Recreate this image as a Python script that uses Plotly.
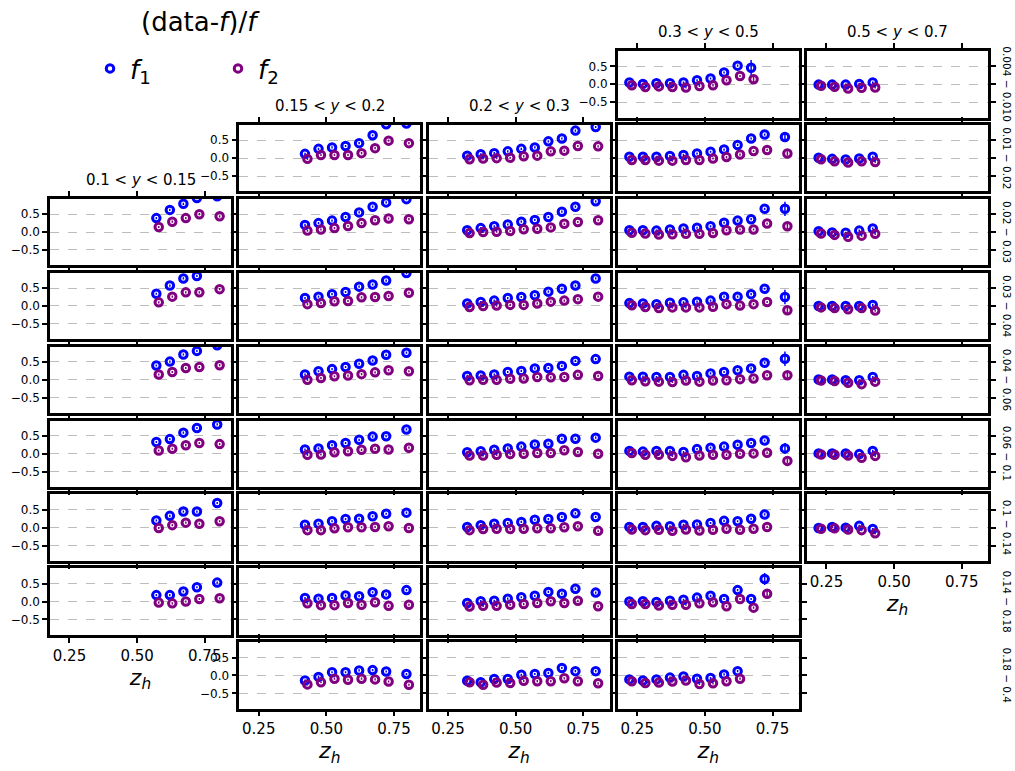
import plotly.graph_objects as go

# ---- bins -------------------------------------------------------------
Y_BIN_LABELS = ["0.1 &lt; <i>y</i> &lt; 0.15", "0.15 &lt; <i>y</i> &lt; 0.2",
                "0.2 &lt; <i>y</i> &lt; 0.3", "0.3 &lt; <i>y</i> &lt; 0.5",
                "0.5 &lt; <i>y</i> &lt; 0.7"]
X_BIN_LABELS = ["0.004 − 0.010", "0.01 − 0.02", "0.02 − 0.03", "0.03 − 0.04",
                "0.04 − 0.06", "0.06 − 0.1", "0.1 − 0.14", "0.14 − 0.18",
                "0.18 − 0.4"]

# z_h bin centres available in each y column
Z_COL1 = [0.575, 0.625, 0.675, 0.725, 0.8]
Z_COL2 = [0.425, 0.475, 0.525, 0.575, 0.625, 0.675, 0.725, 0.8]
Z_COL3 = [0.325, 0.375, 0.425, 0.475, 0.525, 0.575, 0.625, 0.675, 0.725, 0.8]
Z_COL4 = [0.225, 0.275, 0.325, 0.375, 0.425, 0.475, 0.525, 0.575, 0.625,
          0.675, 0.725, 0.8]
Z_COL5 = [0.225, 0.275, 0.325, 0.375, 0.425]

# x-bin rows filled in each y column (0 = first x bin)
ROWS_COL1 = [2, 3, 4, 5, 6, 7]
ROWS_COL2 = [1, 2, 3, 4, 5, 6, 7, 8]
ROWS_COL3 = [1, 2, 3, 4, 5, 6, 7, 8]
ROWS_COL4 = [0, 1, 2, 3, 4, 5, 6, 7, 8]
ROWS_COL5 = [0, 1, 2, 3, 4, 5, 6]

# ---- (data - f)/f for f1 and f2, one list per filled x bin -------------
F1_COL1 = [
    [0.39, 0.62, 0.79, 0.95, 1.00],
    [0.34, 0.57, 0.77, 0.84, 1.10],
    [0.40, 0.51, 0.71, 0.81, 0.97],
    [0.33, 0.41, 0.59, 0.72, 0.82],
    [0.20, 0.33, 0.45, 0.45, 0.69],
    [0.18, 0.18, 0.28, 0.40, 0.53],
]
F2_COL1 = [
    [0.14, 0.29, 0.39, 0.50, 0.44],
    [0.10, 0.26, 0.38, 0.38, 0.47],
    [0.15, 0.22, 0.33, 0.36, 0.41],
    [0.09, 0.14, 0.24, 0.30, 0.27],
    [-0.01, 0.07, 0.14, 0.11, 0.18],
    [-0.03, -0.05, 0.00, 0.07, 0.09],
]

F1_COL2 = [
    [0.12, 0.26, 0.30, 0.34, 0.42, 0.64, 0.95, 0.97],
    [0.20, 0.25, 0.32, 0.42, 0.55, 0.71, 0.83, 0.92],
    [0.22, 0.26, 0.33, 0.39, 0.54, 0.60, 0.71, 0.92],
    [0.15, 0.24, 0.30, 0.36, 0.45, 0.54, 0.70, 0.76],
    [0.12, 0.15, 0.24, 0.30, 0.39, 0.48, 0.49, 0.68],
    [0.08, 0.11, 0.18, 0.24, 0.25, 0.32, 0.39, 0.42],
    [0.10, 0.08, 0.10, 0.17, 0.15, 0.26, 0.20, 0.32],
    [-0.14, -0.04, 0.09, 0.09, 0.14, 0.15, 0.11, 0.04],
]
F2_COL2 = [
    [-0.02, 0.09, 0.09, 0.09, 0.14, 0.28, 0.49, 0.42],
    [0.04, 0.07, 0.11, 0.17, 0.25, 0.33, 0.38, 0.36],
    [0.05, 0.08, 0.13, 0.14, 0.24, 0.25, 0.28, 0.37],
    [0.00, 0.05, 0.10, 0.12, 0.16, 0.21, 0.27, 0.24],
    [-0.03, -0.02, 0.04, 0.07, 0.11, 0.14, 0.12, 0.17],
    [-0.07, -0.07, -0.02, 0.01, 0.01, 0.02, 0.04, -0.01],
    [-0.05, -0.10, -0.10, -0.04, -0.09, -0.02, -0.12, -0.09],
    [-0.25, -0.19, -0.09, -0.12, -0.09, -0.11, -0.17, -0.26],
]

F1_COL3 = [
    [0.07, 0.11, 0.14, 0.19, 0.26, 0.30, 0.47, 0.55, 0.77, 0.87],
    [0.05, 0.11, 0.16, 0.21, 0.29, 0.34, 0.42, 0.57, 0.71, 0.86],
    [0.07, 0.11, 0.15, 0.22, 0.25, 0.30, 0.40, 0.48, 0.57, 0.77],
    [0.11, 0.12, 0.15, 0.22, 0.25, 0.32, 0.33, 0.39, 0.53, 0.58],
    [0.04, 0.07, 0.11, 0.15, 0.20, 0.26, 0.28, 0.42, 0.42, 0.45],
    [0.02, 0.07, 0.11, 0.13, 0.16, 0.22, 0.24, 0.30, 0.40, 0.30],
    [-0.04, 0.01, 0.02, 0.08, 0.12, 0.16, 0.27, 0.22, 0.36, 0.25],
    [-0.15, -0.19, -0.10, -0.10, 0.02, 0.04, 0.07, 0.21, 0.12, 0.12],
]
F2_COL3 = [
    [-0.03, -0.01, 0.00, 0.01, 0.05, 0.07, 0.19, 0.21, 0.34, 0.33],
    [-0.03, 0.00, 0.01, 0.03, 0.08, 0.09, 0.13, 0.23, 0.28, 0.33],
    [-0.03, 0.00, 0.01, 0.03, 0.03, 0.07, 0.12, 0.15, 0.19, 0.26],
    [-0.01, 0.00, 0.00, 0.03, 0.04, 0.08, 0.07, 0.08, 0.14, 0.11],
    [-0.05, -0.05, -0.03, -0.01, 0.00, 0.02, 0.02, 0.10, 0.05, 0.00],
    [-0.07, -0.04, -0.03, -0.04, -0.03, -0.02, -0.02, 0.01, 0.04, -0.09],
    [-0.14, -0.12, -0.12, -0.09, -0.07, -0.04, 0.01, -0.04, 0.02, -0.13],
    [-0.19, -0.26, -0.20, -0.21, -0.15, -0.16, -0.16, -0.08, -0.16, -0.22],
]

F1_COL4 = [
    [0.05, 0.01, 0.03, 0.03, 0.05, 0.11, 0.16, 0.33, 0.52, 0.46],
    [0.04, 0.04, 0.04, 0.06, 0.09, 0.13, 0.18, 0.24, 0.37, 0.55, 0.66, 0.59],
    [0.05, 0.05, 0.04, 0.07, 0.10, 0.12, 0.16, 0.26, 0.32, 0.36, 0.65, 0.65],
    [0.08, 0.07, 0.05, 0.09, 0.10, 0.12, 0.15, 0.26, 0.26, 0.33, 0.48, 0.25],
    [0.09, 0.09, 0.08, 0.08, 0.14, 0.11, 0.18, 0.22, 0.27, 0.32, 0.48, 0.59],
    [0.08, 0.06, 0.08, 0.08, 0.05, 0.13, 0.17, 0.20, 0.25, 0.30, 0.37, 0.15],
    [0.02, 0.02, 0.05, 0.04, 0.08, 0.09, 0.13, 0.19, 0.18, 0.25, 0.37],
    [0.00, 0.01, -0.01, 0.02, 0.05, 0.11, 0.16, 0.07, 0.32, 0.07, 0.63],
    [-0.11, -0.14, -0.11, -0.06, -0.03, -0.09, -0.07, 0.03, 0.12],
]
F2_COL4 = [
    [-0.03, -0.08, -0.06, -0.08, -0.09, -0.05, -0.03, 0.11, 0.23, 0.14],
    [-0.05, -0.05, -0.07, -0.07, -0.05, -0.05, -0.01, 0.03, 0.10, 0.20, 0.23, 0.13],
    [-0.02, -0.04, -0.07, -0.06, -0.05, -0.05, -0.03, 0.05, 0.07, 0.07, 0.24, 0.16],
    [0.02, -0.03, -0.06, -0.04, -0.04, -0.04, -0.02, 0.05, 0.01, 0.05, 0.11, -0.12],
    [-0.01, -0.04, -0.05, -0.06, -0.02, -0.05, -0.02, -0.01, 0.02, 0.04, 0.13, 0.13],
    [0.02, -0.03, -0.03, -0.06, -0.10, -0.05, -0.03, -0.03, 0.00, 0.01, 0.03, -0.20],
    [-0.05, -0.07, -0.06, -0.09, -0.05, -0.08, -0.06, -0.03, -0.06, -0.03, 0.02],
    [-0.07, -0.07, -0.11, -0.09, -0.09, -0.05, -0.02, -0.13, 0.07, -0.17, 0.22],
    [-0.16, -0.21, -0.20, -0.17, -0.14, -0.24, -0.22, -0.16, -0.09],
]

F1_COL5 = [
    [-0.01, -0.01, -0.01, 0.01, 0.05],
    [0.01, -0.02, -0.04, -0.01, 0.04],
    [0.02, -0.01, -0.02, 0.04, 0.10],
    [0.00, 0.00, 0.00, 0.00, 0.03],
    [0.01, 0.01, -0.01, -0.01, 0.08],
    [0.01, 0.01, 0.01, -0.01, 0.08],
    [-0.01, 0.02, 0.00, 0.05, -0.04],
]
F2_COL5 = [
    [-0.04, -0.07, -0.12, -0.10, -0.09],
    [-0.03, -0.09, -0.12, -0.09, -0.11],
    [-0.04, -0.08, -0.13, -0.10, -0.05],
    [-0.04, -0.06, -0.09, -0.06, -0.13],
    [-0.02, -0.03, -0.08, -0.12, -0.05],
    [-0.02, -0.03, -0.05, -0.11, -0.06],
    [-0.03, -0.02, -0.05, -0.07, -0.16],
]

# statistical uncertainty: small everywhere except a few sparse high-z bins
ERR_BASE = 0.03
# (column, x-bin row, z index) -> (err f1, err f2)
ERR_LARGE = {
    (4, 0, 9): (0.22, 0.13),
    (4, 1, 11): (0.13, 0.06),
    (4, 2, 11): (0.20, 0.10),
    (4, 3, 11): (0.20, 0.08),
    (4, 4, 11): (0.20, 0.10),
    (4, 5, 11): (0.15, 0.06),
    (4, 7, 10): (0.17, 0.10),
}

COLUMNS = [
    (Z_COL1, ROWS_COL1, F1_COL1, F2_COL1),
    (Z_COL2, ROWS_COL2, F1_COL2, F2_COL2),
    (Z_COL3, ROWS_COL3, F1_COL3, F2_COL3),
    (Z_COL4, ROWS_COL4, F1_COL4, F2_COL4),
    (Z_COL5, ROWS_COL5, F1_COL5, F2_COL5),
]

# ---- layout geometry (pixels) -----------------------------------------
W, H = 1015, 771
COL_LEFT0, COL_PITCH, COL_W = 50.0, 189.25, 181.0
ROW_TOP0, ROW_PITCH, ROW_H = 51.0, 73.9, 66.5
X_RANGE = [0.178, 0.847]
Y_RANGE = [-0.93, 0.93]
DZ1, DZ2 = -0.004, 0.005
C1, C2 = "#0000ff", "#800080"
FONT = "DejaVu Sans"

fig = go.Figure()
layout = {}
annotations = []
n = 0
legend_done = False

for ci, (zs, rows, f1s, f2s) in enumerate(COLUMNS):
    left = COL_LEFT0 + ci * COL_PITCH
    xdom = [left / W, (left + COL_W) / W]
    for k, (r, v1, v2) in enumerate(zip(rows, f1s, f2s)):
        n += 1
        top = ROW_TOP0 + r * ROW_PITCH
        ydom = [1 - (top + ROW_H) / H, 1 - top / H]
        is_left = all(
            r not in COLUMNS[cj][1] for cj in range(ci)
        )
        is_bottom = (k == len(rows) - 1)
        xa = "xaxis" if n == 1 else f"xaxis{n}"
        ya = "yaxis" if n == 1 else f"yaxis{n}"
        xr = "x" if n == 1 else f"x{n}"
        yr = "y" if n == 1 else f"y{n}"
        layout[xa] = dict(
            domain=xdom, anchor=yr, range=X_RANGE,
            tickvals=[0.25, 0.5, 0.75], ticktext=["0.25", "0.50", "0.75"],
            showticklabels=is_bottom, ticks="outside", ticklen=5,
            tickwidth=1.8, tickcolor="black", mirror="ticks",
            showline=True, linewidth=2.5, linecolor="black",
            showgrid=False, zeroline=False,
            tickfont=dict(size=15, color="black", family=FONT),
            title=dict(text="<i>z</i><sub><i>h</i></sub>" if is_bottom else "",
                       font=dict(size=22, color="black", family=FONT),
                       standoff=6),
        )
        layout[ya] = dict(
            domain=ydom, anchor=xr, range=Y_RANGE,
            tickvals=[-0.5, 0.0, 0.5], ticktext=["−0.5", "0.0", "0.5"],
            showticklabels=is_left, ticks="outside", ticklen=5,
            tickwidth=1.8, tickcolor="black", mirror="ticks",
            showline=True, linewidth=2.5, linecolor="black",
            showgrid=True, gridcolor="#bdbdbd", griddash="dash",
            gridwidth=0.7, zeroline=False,
            tickfont=dict(size=12, color="black", family=FONT),
        )
        e1 = [ERR_BASE] * len(v1)
        e2 = [ERR_BASE] * len(v2)
        for (cc, rr, zi), (a, b) in ERR_LARGE.items():
            if cc == ci + 1 and rr == r:
                e1[zi], e2[zi] = a, b
        zz = zs[:len(v1)]
        for vals, errs, dz, col, name in ((v1, e1, DZ1, C1, "<i>f</i><sub>1</sub>"),
                                           (v2, e2, DZ2, C2, "<i>f</i><sub>2</sub>")):
            fig.add_trace(go.Scatter(
                x=[z + dz for z in zz], y=vals, xaxis=xr, yaxis=yr,
                mode="markers", name=name, showlegend=not legend_done,
                marker=dict(symbol="circle-open", size=7.5, color=col,
                            line=dict(width=3, color=col)),
                error_y=dict(type="data", array=errs, color=col,
                             thickness=1.5, width=0),
            ))
        legend_done = True
        if k == 0:
            annotations.append(dict(
                x=(left + COL_W / 2) / W, y=1 - (top - 19) / H,
                xref="paper", yref="paper", text=Y_BIN_LABELS[ci],
                showarrow=False, xanchor="center", yanchor="middle",
                font=dict(size=15, color="black", family=FONT),
            ))

for r, lab in enumerate(X_BIN_LABELS):
    top = ROW_TOP0 + r * ROW_PITCH
    annotations.append(dict(
        x=1007 / W, y=1 - (top + ROW_H / 2) / H, xref="paper", yref="paper",
        text=lab, textangle=90, showarrow=False,
        xanchor="center", yanchor="middle",
        font=dict(size=10.5, color="black", family=FONT),
    ))

# legend heading
annotations.append(dict(
    x=200 / W, y=1 - 22 / H, xref="paper", yref="paper",
    text="(data-<i>f</i>)/<i>f</i>", showarrow=False,
    xanchor="center", yanchor="middle",
    font=dict(size=26, color="black", family=FONT),
))

fig.update_layout(
    **layout,
    width=W, height=H,
    margin=dict(l=0, r=0, t=0, b=0),
    paper_bgcolor="white", plot_bgcolor="white",
    annotations=annotations,
    font=dict(family=FONT, color="black"),
    legend=dict(
        orientation="h", x=90 / W, y=1 - 45 / H, xanchor="left", yanchor="top",
        font=dict(size=26, family=FONT, color="black"),
        entrywidth=83, entrywidthmode="pixels",
        bgcolor="rgba(0,0,0,0)",
    ),
)

fig.write_html("out.html")
